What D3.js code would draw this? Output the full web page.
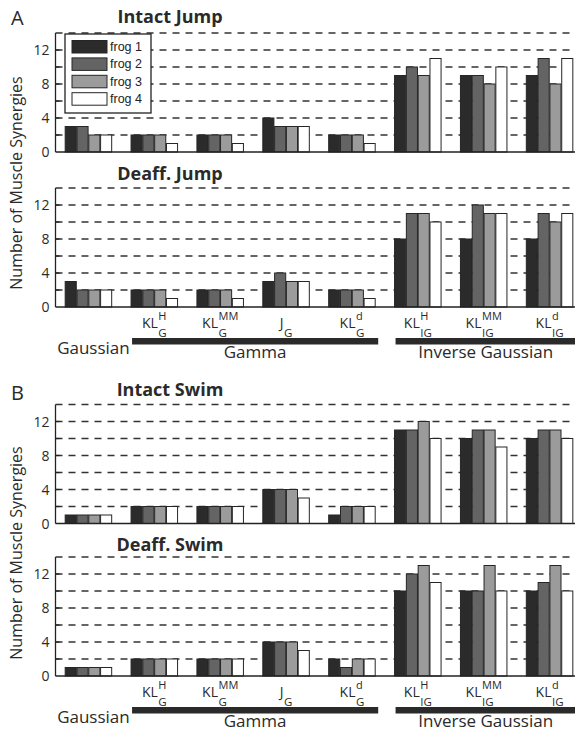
<!DOCTYPE html>
<html>
<head>
<meta charset="utf-8">
<script src="https://cdn.jsdelivr.net/npm/d3@7/dist/d3.min.js"></script>
<style>
  body { margin: 0; background: #fff; }
  svg { display: block; font-family: "Open Sans", "Noto Sans", sans-serif; }
  .grid line { stroke: #333; stroke-width: 1.3; stroke-dasharray: 7 6; }
  .bar { stroke: #262626; stroke-width: 1; }
</style>
</head>
<body>
<svg id="chart" width="575" height="732"></svg>
<script>
const categories = ['Gaussian', 'KLH_G', 'KLMM_G', 'J_G', 'KLd_G', 'KLH_IG', 'KLMM_IG', 'KLd_IG'];
// label pieces for each category: base, superscript, subscript
const labelBase = ['', 'KL', 'KL', 'J', 'KL', 'KL', 'KL', 'KL'];
const labelSup = ['', 'H', 'MM', '', 'd', 'H', 'MM', 'd'];
const labelSub = ['', 'G', 'G', 'G', 'G', 'IG', 'IG', 'IG'];

const frogs = ['frog 1', 'frog 2', 'frog 3', 'frog 4'];
const frogColors = ['#2b2b2b', '#646464', '#9b9b9b', '#ffffff'];

// number of synergies, one row per category, one value per frog
const intactJump = [[3, 3, 2, 2], [2, 2, 2, 1], [2, 2, 2, 1], [4, 3, 3, 3],
  [2, 2, 2, 1], [9, 10, 9, 11], [9, 9, 8, 10], [9, 11, 8, 11]];
const deaffJump = [[3, 2, 2, 2], [2, 2, 2, 1], [2, 2, 2, 1], [3, 4, 3, 3],
  [2, 2, 2, 1], [8, 11, 11, 10], [8, 12, 11, 11], [8, 11, 10, 11]];
const intactSwim = [[1, 1, 1, 1], [2, 2, 2, 2], [2, 2, 2, 2], [4, 4, 4, 3],
  [1, 2, 2, 2], [11, 11, 12, 10], [10, 11, 11, 9], [10, 11, 11, 10]];
const deaffSwim = [[1, 1, 1, 1], [2, 2, 2, 2], [2, 2, 2, 2], [4, 4, 4, 3],
  [2, 1, 2, 2], [10, 12, 13, 11], [10, 10, 13, 10], [10, 11, 13, 10]];

const yTicks = [0, 4, 8, 12];
const gridValues = [2, 4, 6, 8, 10, 12, 14];

// distribution families drawn under the x labels: name, first and last category
const families = [
  { name: 'Gaussian', from: 0, to: 0, bar: false },
  { name: 'Gamma', from: 1, to: 4, bar: true },
  { name: 'Inverse Gaussian', from: 5, to: 7, bar: true }
];

const panels = [
  { title: 'Intact Jump', data: intactJump, top: 33, titleDy: -10, labels: false, legend: true },
  { title: 'Deaff. Jump', data: deaffJump, top: 188, titleDy: -8, labels: true },
  { title: 'Intact Swim', data: intactSwim, top: 404.5, titleDy: -9, labels: false },
  { title: 'Deaff. Swim', data: deaffSwim, top: 557, titleDy: -6, labels: true }
];

const panelHeight = 119;
const plotLeft = 55.5;
const plotRight = 582.5;

const svg = d3.select('#chart');

const x = d3.scaleBand()
  .domain(categories)
  .range([plotLeft, plotRight])
  .paddingInner(0.294)
  .paddingOuter(0.147);

const xInner = d3.scaleBand()
  .domain(d3.range(frogs.length))
  .range([0, x.bandwidth()])
  .paddingInner(0.06);

const drawPanel = (p) => {
  const y = d3.scaleLinear().domain([0, 14]).range([p.top + panelHeight, p.top]);
  const g = svg.append('g');

  // dashed grid
  g.append('g').attr('class', 'grid')
    .selectAll('line')
    .data(gridValues)
    .join('line')
    .attr('x1', plotLeft).attr('x2', plotRight)
    .attr('y1', d => y(d)).attr('y2', d => y(d));

  // bars
  g.selectAll('.cat')
    .data(p.data)
    .join('g')
    .attr('transform', (d, i) => `translate(${x(categories[i])},0)`)
    .selectAll('rect')
    .data(d => d)
    .join('rect')
    .attr('class', 'bar')
    .attr('x', (d, j) => xInner(j))
    .attr('width', xInner.bandwidth())
    .attr('y', d => y(d))
    .attr('height', d => y(0) - y(d))
    .attr('fill', (d, j) => frogColors[j]);

  // axes
  g.append('line')
    .attr('x1', plotLeft).attr('x2', plotLeft)
    .attr('y1', y(0)).attr('y2', y(14))
    .attr('stroke', '#222').attr('stroke-width', 1.3);
  g.append('line')
    .attr('x1', plotLeft).attr('x2', plotRight)
    .attr('y1', y(0)).attr('y2', y(0))
    .attr('stroke', '#222').attr('stroke-width', 1.3);

  g.selectAll('.ytick')
    .data(gridValues.slice(0, -1))
    .join('line')
    .attr('x1', plotLeft).attr('x2', plotLeft + 4)
    .attr('y1', d => y(d)).attr('y2', d => y(d))
    .attr('stroke', '#222').attr('stroke-width', 1.2);

  g.selectAll('.ylab')
    .data(yTicks)
    .join('text')
    .attr('x', plotLeft - 6)
    .attr('y', d => y(d) + 5)
    .attr('text-anchor', 'end')
    .attr('font-size', 14)
    .attr('fill', '#2a2a2a')
    .text(d => d);

  // title
  g.append('text')
    .attr('x', 170)
    .attr('y', p.top + p.titleDy)
    .attr('text-anchor', 'middle')
    .attr('font-size', 18)
    .attr('font-weight', 700)
    .attr('fill', '#2a2a2a')
    .text(p.title);

  if (p.labels) drawLabels(g, y(0));
  if (p.legend) drawLegend(g, y(14));
};

const drawLabels = (g, base) => {
  categories.forEach((c, i) => {
    if (!labelBase[i]) return;
    const lg = g.append('g');
    const main = lg.append('text')
      .attr('y', base + 21)
      .attr('font-size', 14)
      .attr('fill', '#2a2a2a')
      .text(labelBase[i]);
    const w = main.node().getComputedTextLength();
    const sup = lg.append('text')
      .attr('x', w + 0.5).attr('y', base + 13)
      .attr('font-size', 11).attr('fill', '#2a2a2a')
      .text(labelSup[i]);
    const sub = lg.append('text')
      .attr('x', w + 0.5).attr('y', base + 30)
      .attr('font-size', 11.5).attr('fill', '#2a2a2a')
      .text(labelSub[i]);
    const total = w + 0.5 + Math.max(sup.node().getComputedTextLength(), sub.node().getComputedTextLength());
    lg.attr('transform', `translate(${x(c) + x.bandwidth() / 2 - total / 2},0)`);
  });

  families.forEach(f => {
    const x0 = x(categories[f.from]);
    const x1 = x(categories[f.to]) + x.bandwidth();
    if (f.bar) {
      g.append('rect')
        .attr('x', x0 + 1).attr('width', x1 - x0 + 2)
        .attr('y', base + 31).attr('height', 6.5)
        .attr('fill', '#2a2a2a');
      g.append('text')
        .attr('x', (x0 + x1) / 2 + 2)
        .attr('y', base + 51)
        .attr('text-anchor', 'middle')
        .attr('font-size', 17)
        .attr('fill', '#2a2a2a')
        .text(f.name);
    } else {
      g.append('text')
        .attr('x', (x0 + x1) / 2 + 5)
        .attr('y', base + 47)
        .attr('text-anchor', 'middle')
        .attr('font-size', 17)
        .attr('fill', '#2a2a2a')
        .text(f.name);
    }
  });
};

const drawLegend = (g, top) => {
  const lx = 65;
  const ly = top + 1;
  g.append('rect')
    .attr('x', lx).attr('y', ly)
    .attr('width', 86).attr('height', 79)
    .attr('fill', '#fff').attr('stroke', '#222').attr('stroke-width', 1.3);
  const items = g.selectAll('.leg')
    .data(frogs)
    .join('g')
    .attr('transform', (d, i) => `translate(${lx + 7},${ly + 12.5 + i * 17.4})`);
  items.append('rect')
    .attr('class', 'bar')
    .attr('x', 0).attr('y', -6)
    .attr('width', 35).attr('height', 12.5)
    .attr('fill', (d, i) => frogColors[i]);
  items.append('text')
    .attr('x', 38).attr('y', 4.5)
    .attr('font-family', '"Liberation Sans", Arial, sans-serif')
    .attr('font-size', 12.5)
    .attr('fill', '#222')
    .text(d => d);
};

panels.forEach(drawPanel);

// panel letters and shared y-axis labels
svg.selectAll('.letter')
  .data([['A', 25], ['B', 400]])
  .join('text')
  .attr('x', 11).attr('y', d => d[1])
  .attr('font-size', 20)
  .attr('fill', '#2a2a2a')
  .text(d => d[0]);

svg.selectAll('.ylabel')
  .data([183, 553])
  .join('text')
  .attr('transform', d => `translate(22,${d}) rotate(-90)`)
  .attr('text-anchor', 'middle')
  .attr('font-size', 16)
  .attr('fill', '#2a2a2a')
  .text('Number of Muscle Synergies');
</script>
</body>
</html>
